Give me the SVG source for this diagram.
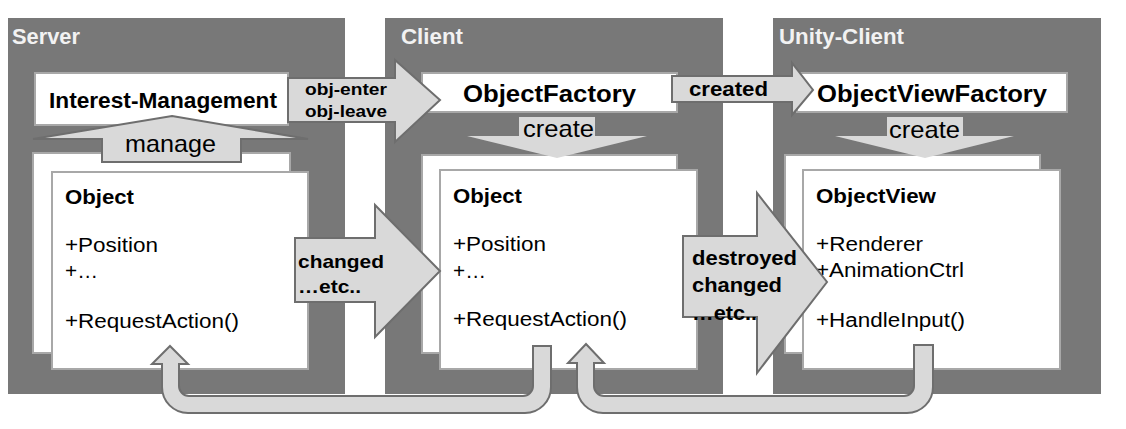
<svg xmlns="http://www.w3.org/2000/svg" width="1126" height="429" viewBox="0 0 1126 429">
<style>
text{font-family:"Liberation Sans",Arial,Helvetica,sans-serif;fill:#000}
.panel{fill:#787878}
.ptitle{font-size:22px;font-weight:bold;fill:#f2f2f2}
.box{fill:#fff;stroke:#a8a8a8;stroke-width:2}
.title{font-weight:bold}
.member{font-size:20px}
.arrow{fill:#d9d9d9;stroke:#6e6e6e;stroke-width:2;stroke-linejoin:miter}
.plain{fill:#d9d9d9}
.lbl{font-weight:bold}
</style>
<rect width="1126" height="429" fill="#fff"/>
<g id="server">
<rect class="panel" x="8" y="18" width="337" height="376"/>
<text class="ptitle" x="12" y="44" textLength="68" lengthAdjust="spacingAndGlyphs">Server</text>
</g>
<g id="client">
<rect class="panel" x="385" y="18" width="338" height="376"/>
<text class="ptitle" x="401" y="44" textLength="62" lengthAdjust="spacingAndGlyphs">Client</text>
</g>
<g id="unity-client">
<rect class="panel" x="773" y="18" width="328" height="376"/>
<text class="ptitle" x="779" y="44" textLength="125" lengthAdjust="spacingAndGlyphs">Unity-Client</text>
</g>
<g id="interest-management">
<rect class="box" x="35" y="73" width="253" height="52"/>
<text class="title" x="49" y="108" font-size="22" textLength="228" lengthAdjust="spacingAndGlyphs">Interest-Management</text>
</g>
<g id="server-object">
<rect class="box" x="33" y="153" width="257" height="200"/>
<rect class="box" x="52" y="172" width="256" height="197"/>
<text class="title" x="65" y="204" font-size="20" textLength="69" lengthAdjust="spacingAndGlyphs">Object</text>
<text class="member" x="65" y="252" textLength="93" lengthAdjust="spacingAndGlyphs">+Position</text>
<text class="member" x="65" y="278" textLength="33" lengthAdjust="spacingAndGlyphs">+…</text>
<text class="member" x="65" y="328" textLength="174" lengthAdjust="spacingAndGlyphs">+RequestAction()</text>
</g>
<g id="object-factory">
<rect class="box" x="422" y="73" width="255" height="39"/>
<text class="title" x="463" y="102" font-size="24" textLength="173" lengthAdjust="spacingAndGlyphs">ObjectFactory</text>
</g>
<g id="client-object">
<rect class="box" x="422" y="155" width="255" height="198"/>
<rect class="box" x="440" y="170" width="257" height="199"/>
<text class="title" x="453" y="203" font-size="20" textLength="69" lengthAdjust="spacingAndGlyphs">Object</text>
<text class="member" x="453" y="251" textLength="93" lengthAdjust="spacingAndGlyphs">+Position</text>
<text class="member" x="453" y="278" textLength="33" lengthAdjust="spacingAndGlyphs">+…</text>
<text class="member" x="453" y="326" textLength="174" lengthAdjust="spacingAndGlyphs">+RequestAction()</text>
</g>
<g id="objectview-factory">
<rect class="box" x="797" y="73" width="270" height="39"/>
<text class="title" x="817" y="102" font-size="24" textLength="230" lengthAdjust="spacingAndGlyphs">ObjectViewFactory</text>
</g>
<g id="objectview">
<rect class="box" x="785" y="155" width="255" height="198"/>
<rect class="box" x="803" y="170" width="257" height="199"/>
<text class="title" x="816" y="203" font-size="20" textLength="120" lengthAdjust="spacingAndGlyphs">ObjectView</text>
<text class="member" x="816" y="251" textLength="107" lengthAdjust="spacingAndGlyphs">+Renderer</text>
<text class="member" x="816" y="277" textLength="148" lengthAdjust="spacingAndGlyphs">+AnimationCtrl</text>
<text class="member" x="816" y="327" textLength="149" lengthAdjust="spacingAndGlyphs">+HandleInput()</text>
</g>
<g id="connectors">
<g id="manage">
<path class="arrow" stroke-width="1.5" d="M172,116 L308,139 L241,139 L241,162 L102,162 L102,139 L33,139 Z"/>
<text x="125" y="152" font-size="24" textLength="91" lengthAdjust="spacingAndGlyphs">manage</text>
</g>
<g id="obj-enter-leave">
<path class="arrow" d="M288,78 L395,78 L395,60 L440,100 L395,142 L395,122 L288,122 Z"/>
<text class="lbl" x="305" y="95" font-size="17" textLength="82" lengthAdjust="spacingAndGlyphs">obj-enter</text>
<text class="lbl" x="305" y="117" font-size="17" textLength="82" lengthAdjust="spacingAndGlyphs">obj-leave</text>
</g>
<g id="create-client">
<path class="plain" d="M519,117 L595,117 L595,136 L647,136 L557,158 L467,136 L519,136 Z"/>
<text x="523" y="137" font-size="24" textLength="71" lengthAdjust="spacingAndGlyphs">create</text>
</g>
<g id="created">
<path class="arrow" d="M672,76 L792,76 L792,63 L813,90 L792,115 L792,102 L672,102 Z"/>
<text class="lbl" x="689" y="96" font-size="21" textLength="79" lengthAdjust="spacingAndGlyphs">created</text>
</g>
<g id="create-unity">
<path class="plain" d="M887,117 L963,117 L963,136 L1014,136 L925,158 L835,136 L887,136 Z"/>
<text x="889" y="138" font-size="24" textLength="71" lengthAdjust="spacingAndGlyphs">create</text>
</g>
<g id="changed">
<path class="arrow" d="M295,238 L375,238 L375,205 L440,271 L375,337 L375,302 L295,302 Z"/>
<text class="lbl" x="298" y="268" font-size="19" textLength="86" lengthAdjust="spacingAndGlyphs">changed</text>
<text class="lbl" x="298" y="293" font-size="19" textLength="63" lengthAdjust="spacingAndGlyphs">…etc..</text>
</g>
<g id="destroyed">
<path class="arrow" d="M683,236 L757,236 L757,193 L827,282 L757,373 L757,317 L683,317 Z"/>
<text class="lbl" x="692" y="265" font-size="20" textLength="105" lengthAdjust="spacingAndGlyphs">destroyed</text>
<text class="lbl" x="692" y="292" font-size="20" textLength="90" lengthAdjust="spacingAndGlyphs">changed</text>
<text class="lbl" x="692" y="320" font-size="20" textLength="65" lengthAdjust="spacingAndGlyphs">…etc..</text>
</g>
<path id="request-client-server" class="arrow" d="M170,346 L188,364 L179,364 L179,386 A10,10 0 0 0 189,396 L523,396 A10,10 0 0 0 533,386 L533,346 L551,346 L551,387 A26,26 0 0 1 525,413 L188,413 A26,26 0 0 1 162,387 L162,364 L152,364 Z"/>
<path id="request-unity-client" class="arrow" d="M586,344 L604,363 L594,363 L594,386 A10,10 0 0 0 604,396 L904,396 A10,10 0 0 0 914,386 L914,345 L933,345 L933,387 A26,26 0 0 1 907,413 L603,413 A26,26 0 0 1 577,387 L577,363 L568,363 Z"/>
</g>
</svg>
